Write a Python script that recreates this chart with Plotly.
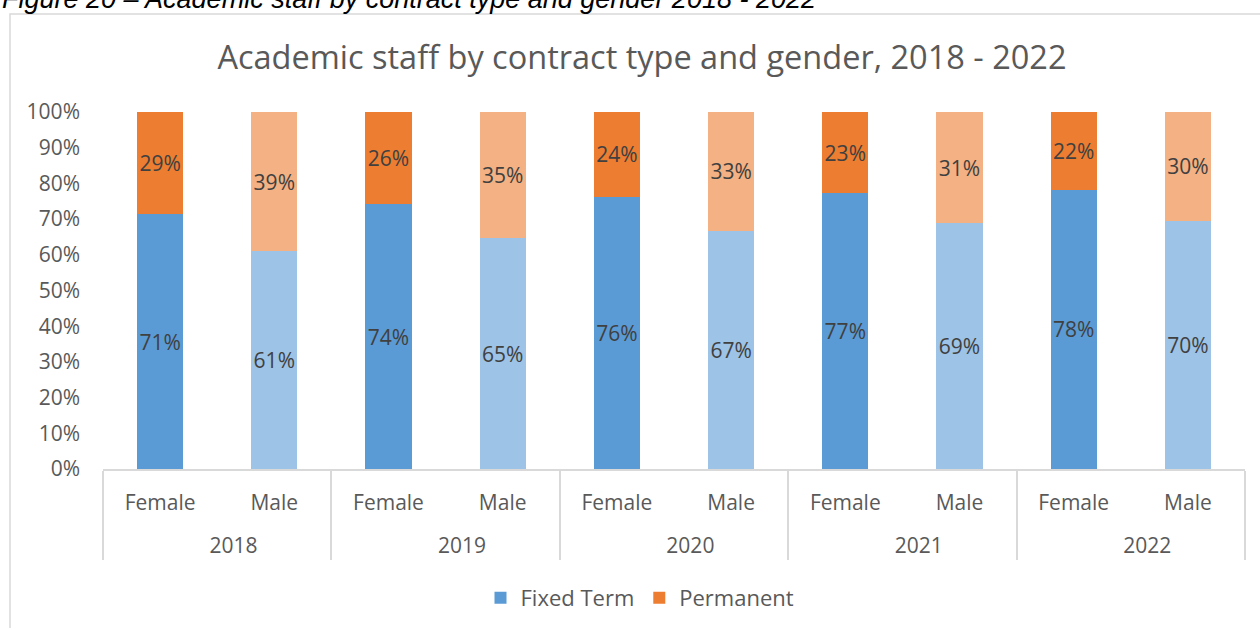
import plotly.graph_objects as go

years = ["2018", "2019", "2020", "2021", "2022"]
genders = ["Female", "Male"]
female_fixed = [71.3, 74.2, 76.2, 77.3, 78.2]
male_fixed = [61.0, 64.6, 66.8, 68.9, 69.6]
female_perm = [100 - v for v in female_fixed]
male_perm = [100 - v for v in male_fixed]

NB = "\u00a0" * 6
x_years, x_gender, fixed, perm = [], [], [], []
for i, yr in enumerate(years):
    lab = "<br>" + NB + yr
    x_years += [lab, lab]
    x_gender += genders
    fixed += [female_fixed[i], male_fixed[i]]
    perm += [female_perm[i], male_perm[i]]

fixed_colors = ["#5B9BD5", "#9DC3E6"] * len(years)
perm_colors = ["#ED7D31", "#F4B183"] * len(years)

FONT = "'Open Sans', sans-serif"
TXT = "#595959"

fig = go.Figure()
fig.add_trace(go.Bar(
    name="Fixed Term", x=[x_years, x_gender], y=fixed,
    marker=dict(color=fixed_colors, line=dict(width=0)),
    texttemplate="%{y:.0f}%", textposition="inside", insidetextanchor="middle",
    textangle=0, textfont=dict(family=FONT, size=21, color="#404040"), constraintext="none",
    hoverinfo="skip"))
fig.add_trace(go.Bar(
    name="Permanent", x=[x_years, x_gender], y=perm,
    marker=dict(color=perm_colors, line=dict(width=0)),
    texttemplate="%{y:.0f}%", textposition="inside", insidetextanchor="middle",
    textangle=0, textfont=dict(family=FONT, size=21, color="#404040"), constraintext="none",
    hoverinfo="skip"))

fig.update_layout(
    width=1260, height=628,
    barmode="stack", bargap=0.596,
    plot_bgcolor="white", paper_bgcolor="white",
    margin=dict(l=103, r=15, t=112, b=159, autoexpand=False),
    font=dict(family=FONT, color=TXT, size=21),
    title=dict(text="Academic staff by contract type and gender, 2018 - 2022",
               x=642 / 1260, xanchor="center", y=1 - 58 / 628, yanchor="middle",
               font=dict(family=FONT, size=32.5, color=TXT)),
    showlegend=True,
    legend=dict(orientation="h", x=(640 - 103) / 1142, xanchor="center", y=(469 - 598) / 357,
                yanchor="middle", font=dict(family=FONT, size=22, color=TXT), traceorder="normal"),
    uniformtext=dict(mode=False),
)
fig.update_yaxes(range=[0, 100], dtick=10, ticksuffix="%", showgrid=False,
                 zeroline=False, showline=False, ticks="", ticklabelstandoff=22,
                 tickfont=dict(family=FONT, size=21, color=TXT))
fig.update_xaxes(type="multicategory", showline=True, linecolor="#D9D9D9", linewidth=1.5,
                 showdividers=True, dividercolor="#D9D9D9", dividerwidth=1.5,
                 ticks="", showgrid=False, ticklabelstandoff=14,
                 tickfont=dict(family=FONT, size=21, color=TXT))

# outer chart frame
fig.add_shape(type="rect", xref="paper", yref="paper",
              x0=(10 - 103) / 1142, x1=1.2, y0=-0.6, y1=(469 - 14) / 357,
              line=dict(color="#D9D9D9", width=1.5), fillcolor="rgba(0,0,0,0)", layer="below")

# figure caption (partly cut off at top)
fig.add_annotation(text="<i>Figure 20 – Academic staff by contract type and gender 2018 - 2022</i>",
                   xref="paper", yref="paper", x=(0 - 103) / 1142, y=(469 - 16) / 357,
                   xanchor="left", yanchor="bottom", showarrow=False,
                   font=dict(family="Liberation Sans, Arial, sans-serif", size=27, color="#000000"))

fig.write_html("out.html", config={"displayModeBar": False},
               post_script="document.body.style.margin='0';document.body.style.overflow='hidden';")
